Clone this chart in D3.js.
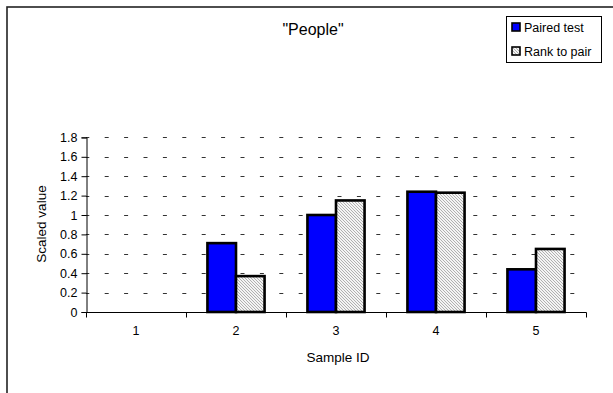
<!DOCTYPE html>
<html>
<head>
<meta charset="utf-8">
<script src="https://cdn.jsdelivr.net/npm/d3@7"></script>
<style>
  html, body { margin: 0; padding: 0; background: #fff; }
  svg { display: block; font-family: "Liberation Sans", Arial, Helvetica, sans-serif; }
</style>
</head>
<body>
<script>
// Chart data
const samples = ["1", "2", "3", "4", "5"];
const seriesNames = ["Paired test", "Rank to pair"];
const pairedTest = [null, 0.71, 1.0, 1.24, 0.44];
const rankToPair = [null, 0.37, 1.15, 1.23, 0.65];
const yTicks = [0, 0.2, 0.4, 0.6, 0.8, 1, 1.2, 1.4, 1.6, 1.8];
const titleText = "\"People\"";
const xTitle = "Sample ID";
const yTitle = "Scaled value";

const W = 613, H = 393;
const svg = d3.select("body").append("svg").attr("width", W).attr("height", H);

// fine diagonal hatch for the second series
const defs = svg.append("defs");
const pat = defs.append("pattern")
  .attr("id", "hatch").attr("patternUnits", "userSpaceOnUse")
  .attr("width", 3).attr("height", 3);
pat.append("rect").attr("width", 3).attr("height", 3).attr("fill", "#f4f4f4");
pat.append("path").attr("d", "M0,0 L3,3 M-1,2 L1,4 M2,-1 L4,1")
  .attr("stroke", "#a8a8a8").attr("stroke-width", 0.9);

// outer chart frame
svg.append("rect").attr("x", 7).attr("y", 7).attr("width", 800).attr("height", 600)
  .attr("fill", "none").attr("stroke", "#222").attr("stroke-width", 1.6);

const plot = { left: 86, right: 586, top: 137.4, bottom: 312 };

const x = d3.scaleBand().domain(samples).range([plot.left, plot.right]).paddingInner(0).paddingOuter(0);
const y = d3.scaleLinear().domain([0, 1.8]).range([plot.bottom, plot.top]);

// dashed horizontal gridlines
svg.append("g").selectAll("line").data(yTicks.filter(d => d > 0)).join("line")
  .attr("x1", plot.left).attr("x2", plot.right)
  .attr("y1", d => Math.round(y(d)) + 0.5).attr("y2", d => Math.round(y(d)) + 0.5)
  .attr("stroke", "#333").attr("stroke-width", 1)
  .attr("stroke-dasharray", "4 15.4").attr("stroke-dashoffset", 0.7);

// bars: two per sample, 150% gap between groups
const barW = x.bandwidth() / 3.5;
const gap = barW * 0.75;
const series = [
  { name: seriesNames[0], values: pairedTest, fill: "#0000ff" },
  { name: seriesNames[1], values: rankToPair, fill: "url(#hatch)" }
];
series.forEach((s, si) => {
  svg.append("g").selectAll("rect")
    .data(samples.map((c, i) => ({ c, v: s.values[i] })).filter(d => d.v !== null))
    .join("rect")
    .attr("x", d => x(d.c) + gap + si * barW)
    .attr("y", d => y(d.v))
    .attr("width", barW)
    .attr("height", d => y(0) - y(d.v))
    .attr("fill", s.fill)
    .attr("stroke", "#000").attr("stroke-width", 2.6);
});

// y axis
const yAxis = svg.append("g").attr("transform", `translate(${plot.left + 0.5},0)`)
  .call(d3.axisLeft(y).tickValues(yTicks).tickSize(5).tickPadding(4)
    .tickFormat(d => d3.format("")(+d.toFixed(1))));
yAxis.select(".domain").attr("stroke", "#000");
yAxis.selectAll("text").attr("font-size", 12.5).attr("fill", "#000")
  .attr("font-family", "Liberation Sans, Arial, sans-serif");

// x axis with ticks at category boundaries
const xAxisG = svg.append("g").attr("transform", `translate(0,${plot.bottom + 0.5})`);
xAxisG.append("line").attr("x1", plot.left).attr("x2", plot.right + 0.5)
  .attr("stroke", "#000");
const bounds = samples.map(c => x(c)).concat([plot.right]);
xAxisG.selectAll("line.tk").data(bounds).join("line").attr("class", "tk")
  .attr("x1", d => Math.round(d) + 0.5).attr("x2", d => Math.round(d) + 0.5)
  .attr("y1", 0).attr("y2", 5).attr("stroke", "#000");
xAxisG.selectAll("text").data(samples).join("text")
  .attr("x", d => x(d) + x.bandwidth() / 2).attr("y", 22)
  .attr("text-anchor", "middle").attr("font-size", 12.5).text(d => d);

// titles
svg.append("text").attr("x", 313).attr("y", 35).attr("text-anchor", "middle")
  .attr("font-size", 16).text(titleText);
svg.append("text").attr("x", 338).attr("y", 362).attr("text-anchor", "middle")
  .attr("font-size", 13.5).text(xTitle);
svg.append("text").attr("transform", "translate(46,224) rotate(-90)")
  .attr("text-anchor", "middle").attr("font-size", 13.5).text(yTitle);

// legend
const lg = svg.append("g");
lg.append("rect").attr("x", 506.5).attr("y", 16.5).attr("width", 95).attr("height", 46)
  .attr("fill", "#fff").attr("stroke", "#000").attr("stroke-width", 1);
series.forEach((s, i) => {
  const cy = 27 + i * 24;
  lg.append("rect").attr("x", 512).attr("y", cy - 4).attr("width", 8).attr("height", 8)
    .attr("fill", s.fill).attr("stroke", "#000").attr("stroke-width", 1.6);
  lg.append("text").attr("x", 524).attr("y", cy + 4.5).attr("font-size", 12.5).text(s.name);
});
</script>
</body>
</html>
